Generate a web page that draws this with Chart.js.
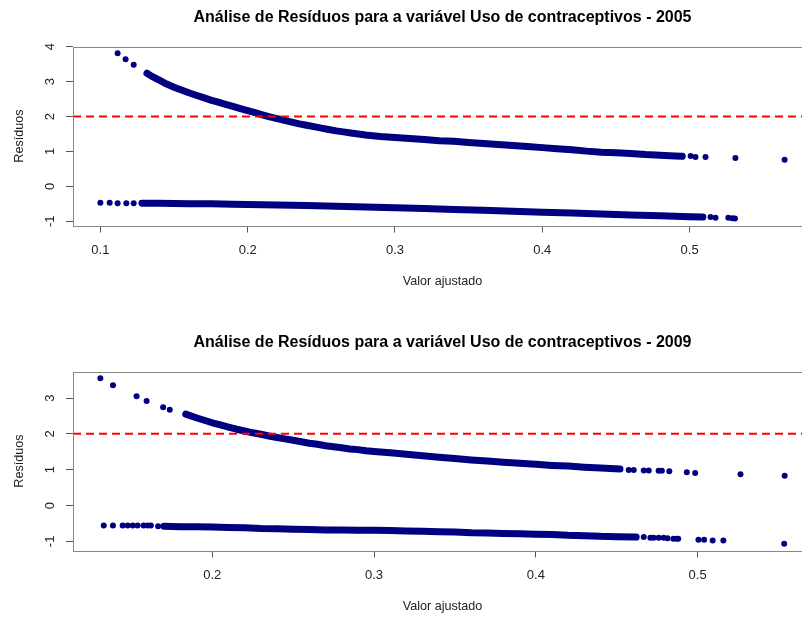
<!DOCTYPE html>
<html>
<head>
<meta charset="utf-8">
<script src="https://cdn.jsdelivr.net/npm/chart.js@4/dist/chart.umd.min.js"></script>
<style>
body { margin: 0; background: #fff; }
#folha { position: relative; width: 802px; height: 618px; overflow: hidden; }
canvas { position: absolute; left: 0; }
</style>
</head>
<body>
<div id="folha">
  <canvas id="g2005" width="816" height="325" style="top:0;width:816px;height:325px"></canvas>
  <canvas id="g2009" width="816" height="325" style="top:325px;width:816px;height:325px"></canvas>
</div>
<script>
//valores (valor ajustado x residuo)

//2005 - ramo de cima (faixa densa e pontos soltos)
var x2005SupFaixa = [0.1316, 0.135, 0.14, 0.145, 0.15, 0.155, 0.16, 0.165, 0.17, 0.175, 0.18, 0.185, 0.19, 0.195, 0.20, 0.205, 0.21, 0.215, 0.22, 0.225, 0.23, 0.235, 0.24, 0.245, 0.25, 0.255, 0.26, 0.265, 0.27, 0.275, 0.28, 0.29, 0.30, 0.31, 0.32, 0.33, 0.34, 0.35, 0.36, 0.37, 0.38, 0.39, 0.40, 0.41, 0.42, 0.43, 0.44, 0.45, 0.46, 0.47, 0.48, 0.49, 0.495];
var y2005SupFaixa = [3.24, 3.15, 3.04, 2.93, 2.84, 2.76, 2.68, 2.61, 2.54, 2.47, 2.41, 2.35, 2.29, 2.23, 2.17, 2.11, 2.05, 1.99, 1.94, 1.89, 1.84, 1.79, 1.75, 1.71, 1.67, 1.63, 1.59, 1.56, 1.53, 1.50, 1.47, 1.43, 1.40, 1.37, 1.34, 1.31, 1.29, 1.26, 1.23, 1.20, 1.17, 1.14, 1.11, 1.08, 1.05, 1.01, 0.98, 0.96, 0.94, 0.91, 0.89, 0.87, 0.86];
var x2005SupSoltos = [0.1117, 0.1171, 0.1226, 0.5007, 0.504, 0.5108, 0.5311, 0.5645];
var y2005SupSoltos = [3.81, 3.64, 3.48, 0.87, 0.84, 0.84, 0.81, 0.76];

//2005 - ramo de baixo
var x2005InfFaixa = [0.1282, 0.14, 0.15, 0.16, 0.175, 0.19, 0.20, 0.22, 0.24, 0.26, 0.28, 0.30, 0.32, 0.34, 0.36, 0.38, 0.40, 0.42, 0.44, 0.46, 0.48, 0.50, 0.509];
var y2005InfFaixa = [-0.48, -0.485, -0.49, -0.495, -0.50, -0.51, -0.52, -0.535, -0.55, -0.57, -0.59, -0.61, -0.63, -0.66, -0.68, -0.71, -0.74, -0.76, -0.79, -0.82, -0.84, -0.87, -0.88];
var x2005InfSoltos = [0.1, 0.1063, 0.1117, 0.1176, 0.1226, 0.5142, 0.5176, 0.5263, 0.529, 0.5308];
var y2005InfSoltos = [-0.47, -0.47, -0.48, -0.48, -0.48, -0.88, -0.90, -0.90, -0.91, -0.92];

//2009 - ramo de cima
var x2009SupFaixa = [0.1836, 0.19, 0.195, 0.20, 0.205, 0.21, 0.215, 0.22, 0.225, 0.23, 0.235, 0.24, 0.245, 0.25, 0.255, 0.26, 0.265, 0.27, 0.275, 0.28, 0.285, 0.29, 0.295, 0.30, 0.31, 0.32, 0.33, 0.34, 0.35, 0.36, 0.37, 0.38, 0.39, 0.40, 0.41, 0.42, 0.43, 0.44, 0.452];
var y2009SupFaixa = [2.55, 2.45, 2.38, 2.31, 2.25, 2.19, 2.13, 2.08, 2.03, 1.99, 1.94, 1.90, 1.86, 1.82, 1.78, 1.74, 1.71, 1.67, 1.64, 1.61, 1.58, 1.56, 1.53, 1.51, 1.47, 1.43, 1.39, 1.35, 1.31, 1.27, 1.24, 1.21, 1.18, 1.15, 1.12, 1.10, 1.07, 1.05, 1.02];
var x2009SupSoltos = [0.1308, 0.1386, 0.1532, 0.1594, 0.1696, 0.1737, 0.4574, 0.4605, 0.4667, 0.4698, 0.4759, 0.4779, 0.4825, 0.4933, 0.4985, 0.5265, 0.5538];
var y2009SupSoltos = [3.55, 3.36, 3.05, 2.92, 2.74, 2.67, 0.99, 0.99, 0.98, 0.98, 0.97, 0.97, 0.96, 0.93, 0.91, 0.87, 0.83];

//2009 - ramo de baixo
var x2009InfFaixa = [0.1702, 0.18, 0.19, 0.20, 0.21, 0.22, 0.23, 0.24, 0.25, 0.26, 0.27, 0.28, 0.29, 0.30, 0.31, 0.32, 0.33, 0.34, 0.35, 0.36, 0.37, 0.38, 0.39, 0.40, 0.41, 0.42, 0.43, 0.44, 0.45, 0.462];
var y2009InfFaixa = [-0.58, -0.59, -0.59, -0.60, -0.61, -0.62, -0.64, -0.65, -0.66, -0.67, -0.68, -0.68, -0.69, -0.69, -0.70, -0.71, -0.72, -0.73, -0.74, -0.76, -0.77, -0.78, -0.79, -0.80, -0.81, -0.83, -0.84, -0.86, -0.87, -0.88];
var x2009InfSoltos = [0.1329, 0.1386, 0.1446, 0.1477, 0.1508, 0.1538, 0.1575, 0.16, 0.162, 0.1665, 0.4667, 0.4708, 0.4728, 0.4759, 0.479, 0.4814, 0.485, 0.487, 0.488, 0.5005, 0.504, 0.5093, 0.5159, 0.5535];
var y2009InfSoltos = [-0.56, -0.56, -0.56, -0.56, -0.56, -0.56, -0.56, -0.56, -0.56, -0.58, -0.88, -0.90, -0.90, -0.90, -0.90, -0.91, -0.93, -0.93, -0.93, -0.955, -0.955, -0.975, -0.975, -1.07];

//linha de corte (tracejado vermelho)
var limiar = 2;

//eixos
var xLim2005 = [0.0814, 0.5831];
var yLim2005 = [-1.12, 4.0];
var xTicks2005 = [0.1, 0.2, 0.3, 0.4, 0.5];
var yTicks2005 = [-1, 0, 1, 2, 3, 4];
var xLim2009 = [0.1139, 0.5707];
var yLim2009 = [-1.255, 3.735];
var xTicks2009 = [0.2, 0.3, 0.4, 0.5];
var yTicks2009 = [-1, 0, 1, 2, 3];

var fonte = '"Liberation Sans", Arial, sans-serif';
var azul = '#000080';
Chart.defaults.font.family = fonte;

function pares(xs, ys) {
    return xs.map(function (x, i) { return { x: x, y: ys[i] }; });
}

//caixa em volta do grafico e labels do eixo y rodados (como no R)
var moldura = {
    id: 'moldura',
    afterDraw: function (chart) {
        var ctx = chart.ctx, a = chart.chartArea, esc = chart.scales.y;
        ctx.save();
        ctx.strokeStyle = '#888';
        ctx.lineWidth = 1;
        ctx.strokeRect(Math.round(a.left) + 0.5, Math.round(a.top) + 0.5,
            Math.round(a.right - a.left), Math.round(a.bottom - a.top));
        ctx.fillStyle = '#222';
        ctx.font = '13px ' + fonte;
        ctx.textAlign = 'center';
        ctx.textBaseline = 'middle';
        esc.ticks.forEach(function (t) {
            ctx.save();
            ctx.translate(50.5, esc.getPixelForValue(t.value));
            ctx.rotate(-Math.PI / 2);
            ctx.fillText(String(t.value), 0, 0);
            ctx.restore();
        });
        ctx.restore();
    }
};

function criarGrafico(id, titulo, sup, supSoltos, inf, infSoltos, xLim, yLim, xTicks, yTicks) {
    var ctx = document.getElementById(id).getContext('2d');
    return new Chart(ctx, {
        type: 'scatter',
        data: {
            datasets: [{
                data: pares(xLim, [limiar, limiar]),
                showLine: true,
                borderColor: '#ff0000',
                borderWidth: 2,
                borderDash: [8, 5],
                pointRadius: 0
            }, {
                data: sup,
                showLine: true,
                borderColor: azul,
                borderWidth: 7,
                borderCapStyle: 'round',
                borderJoinStyle: 'round',
                pointRadius: 3,
                pointBorderWidth: 0,
                backgroundColor: azul
            }, {
                data: supSoltos,
                pointRadius: 3,
                pointBorderWidth: 0,
                backgroundColor: azul
            }, {
                data: inf,
                showLine: true,
                borderColor: azul,
                borderWidth: 7,
                borderCapStyle: 'round',
                borderJoinStyle: 'round',
                pointRadius: 3,
                pointBorderWidth: 0,
                backgroundColor: azul
            }, {
                data: infSoltos,
                pointRadius: 3,
                pointBorderWidth: 0,
                backgroundColor: azul
            }]
        },
        options: {
            responsive: false,
            animation: false,
            devicePixelRatio: 1,
            layout: { padding: 0 },
            plugins: {
                legend: { display: false },
                tooltip: { enabled: false },
                title: {
                    display: true,
                    text: titulo,
                    fullSize: false,
                    color: '#000',
                    font: { size: 16, weight: 'bold' },
                    padding: { top: 8, bottom: 19.5 }
                }
            },
            scales: {
                x: {
                    type: 'linear',
                    min: xLim[0],
                    max: xLim[1],
                    afterBuildTicks: function (s) { s.ticks = xTicks.map(function (v) { return { value: v }; }); },
                    afterFit: function (s) { s.height = 99.5; },
                    grid: { drawOnChartArea: false, tickLength: 7, color: '#555' },
                    border: { display: false },
                    ticks: {
                        padding: 9.7,
                        color: '#222',
                        font: { size: 13 },
                        maxRotation: 0,
                        autoSkip: false,
                        callback: function (v) { return v.toFixed(1); }
                    },
                    title: { display: true, text: 'Valor ajustado', color: '#222', font: { size: 12.6 }, padding: { top: 0, bottom: 35.7 } }
                },
                y: {
                    type: 'linear',
                    min: yLim[0],
                    max: yLim[1],
                    afterBuildTicks: function (s) { s.ticks = yTicks.map(function (v) { return { value: v }; }); },
                    afterFit: function (s) { s.width = 73; },
                    grid: { drawOnChartArea: false, tickLength: 7, color: '#555' },
                    border: { display: false },
                    ticks: { display: false },
                    title: { display: true, text: 'Resíduos', color: '#222', font: { size: 12.6 }, padding: { top: 12, bottom: 0 } }
                }
            }
        },
        plugins: [moldura]
    });
}

criarGrafico('g2005', 'Análise de Resíduos para a variável Uso de contraceptivos - 2005',
    pares(x2005SupFaixa, y2005SupFaixa), pares(x2005SupSoltos, y2005SupSoltos),
    pares(x2005InfFaixa, y2005InfFaixa), pares(x2005InfSoltos, y2005InfSoltos),
    xLim2005, yLim2005, xTicks2005, yTicks2005);

criarGrafico('g2009', 'Análise de Resíduos para a variável Uso de contraceptivos - 2009',
    pares(x2009SupFaixa, y2009SupFaixa), pares(x2009SupSoltos, y2009SupSoltos),
    pares(x2009InfFaixa, y2009InfFaixa), pares(x2009InfSoltos, y2009InfSoltos),
    xLim2009, yLim2009, xTicks2009, yTicks2009);
</script>
</body>
</html>
